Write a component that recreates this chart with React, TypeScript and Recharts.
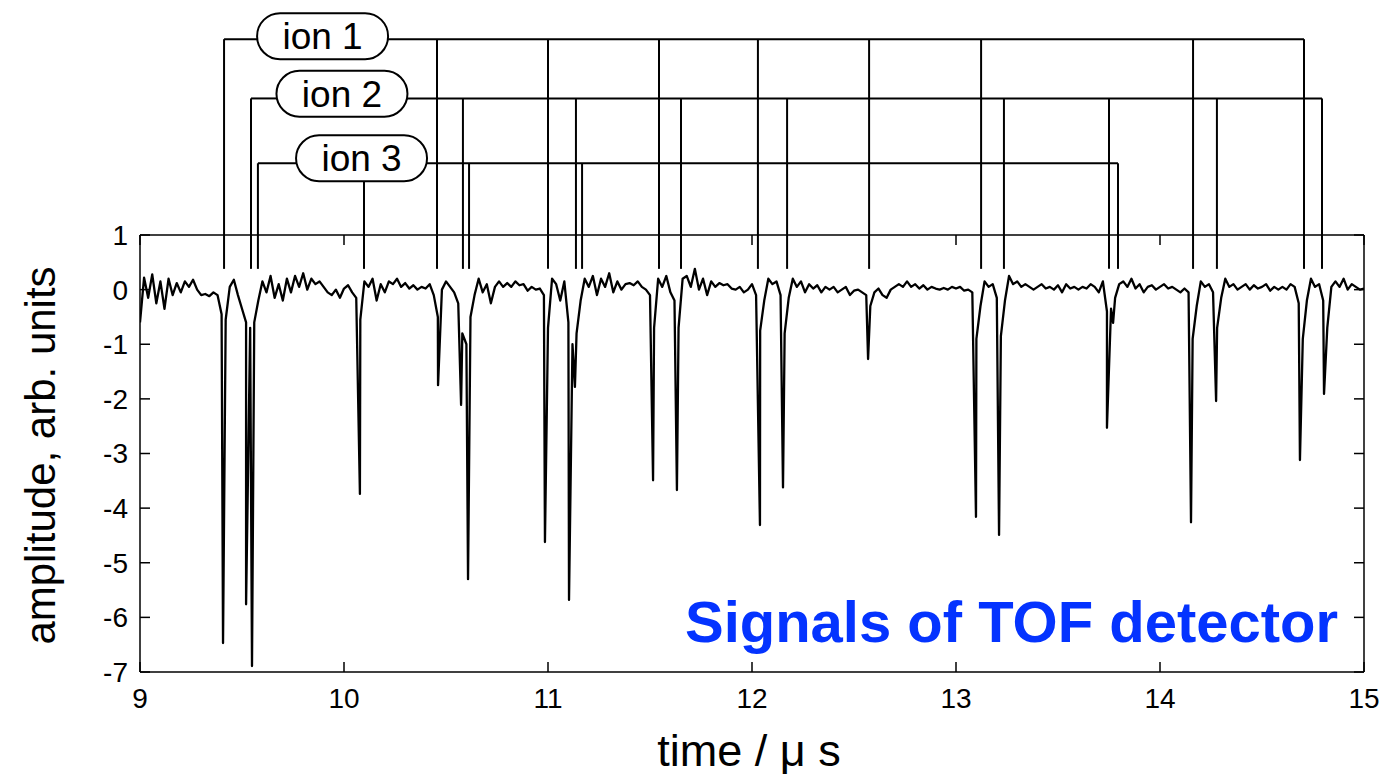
import { Line, LineChart, ReferenceDot, ReferenceLine, XAxis, YAxis } from "recharts";

const FONT = '"Liberation Sans", Arial, Helvetica, sans-serif';

// detector trace, sampled every 0.02 us from 9.00 to 15.00
const NOISE_START = 9;
const NOISE_STEP = 0.02;
const baseline = [
  -0.6, 0.22, -0.15, 0.28, -0.25, 0.15, -0.35, 0.2, -0.1, 0.12, // 9.00
  -0.05, 0.15, 0.05, 0.18, 0.0, -0.1, -0.08, -0.12, -0.05, -0.1, // 9.20
  -0.45, -0.55, 0.05, 0.18, -0.1, -0.35, -0.6, -0.7, -0.6, -0.2, // 9.40
  0.15, -0.05, 0.25, -0.15, 0.1, -0.2, 0.2, -0.05, 0.25, 0.05, // 9.60
  0.3, 0.0, 0.2, 0.1, 0.15, 0.05, -0.05, -0.1, 0.0, -0.15, // 9.80
  0.02, 0.08, -0.05, -0.15, -0.55, 0.15, 0.05, 0.2, -0.2, 0.1, // 10.00
  -0.05, 0.15, 0.1, 0.2, 0.05, 0.12, 0.02, 0.08, 0.0, 0.05, // 10.20
  0.02, 0.1, -0.1, -0.5, 0.0, 0.15, 0.05, -0.05, -0.25, -0.8, // 10.40
  -1.0, -0.5, -0.1, 0.2, -0.05, 0.1, -0.25, 0.05, 0.15, 0.05, // 10.60
  0.12, 0.05, 0.15, 0.08, 0.1, -0.02, 0.05, 0.0, 0.02, -0.1, // 10.80
  -0.7, 0.2, 0.1, -0.2, 0.15, -0.6, -1.0, -0.8, -0.2, 0.2, // 11.00
  0.05, 0.25, -0.1, 0.2, 0.05, 0.3, -0.05, 0.15, 0.0, 0.1, // 11.20
  0.12, 0.08, 0.15, 0.05, 0.0, -0.1, -0.7, 0.2, 0.05, 0.25, // 11.40
  -0.05, -0.2, -0.7, 0.2, 0.25, 0.05, 0.38, 0.0, 0.2, -0.1, // 11.60
  0.15, 0.05, 0.12, 0.08, 0.1, 0.02, 0.0, 0.05, -0.05, 0.0, // 11.80
  0.1, -0.1, -0.75, -0.2, 0.2, 0.1, 0.15, -0.1, -0.8, -0.15, // 12.00
  0.2, 0.05, 0.15, -0.05, 0.1, 0.02, 0.08, -0.05, 0.05, 0.0, // 12.20
  0.05, -0.05, 0.0, 0.05, -0.1, -0.02, 0.0, -0.05, -0.1, -0.3, // 12.40
  -0.05, 0.02, -0.1, -0.15, 0.0, 0.05, 0.1, 0.05, 0.15, 0.05, // 12.60
  0.1, 0.02, 0.08, 0.0, 0.05, 0.02, 0.0, 0.03, 0.0, 0.05, // 12.80
  0.02, 0.05, -0.02, 0.0, -0.05, -0.9, -0.3, 0.15, 0.05, 0.1, // 13.00
  -0.15, -0.85, -0.2, 0.25, 0.1, 0.15, 0.05, 0.1, 0.05, 0.0, // 13.20
  0.05, 0.1, 0.02, 0.05, 0.0, 0.08, -0.05, 0.1, 0.02, 0.05, // 13.40
  0.0, 0.05, 0.02, 0.1, 0.05, -0.05, 0.15, -0.4, -0.35, -0.15, // 13.60
  0.1, 0.15, 0.05, 0.2, 0.02, 0.1, -0.05, 0.05, 0.08, 0.0, // 13.80
  0.05, 0.1, 0.02, 0.05, 0.0, -0.05, 0.02, -0.05, -0.9, -0.3, // 14.00
  0.15, 0.05, 0.1, -0.05, -0.7, -0.15, 0.2, 0.05, 0.1, 0.0, // 14.20
  0.05, 0.1, 0.0, 0.08, 0.02, 0.05, 0.1, -0.02, 0.05, 0.0, // 14.40
  0.05, 0.0, 0.1, 0.05, -0.25, -0.9, -0.2, 0.2, 0.05, 0.1, // 14.60
  -0.2, -0.7, 0.05, 0.15, 0.05, 0.2, 0.0, 0.1, 0.05, 0.0, // 14.80
  0.02, // 15.00
];

// sharp ion hits
const spikeTimes = [
  9.407, 9.52, 9.549, 10.078, 10.461, 10.574, 10.608, 10.985, 11.103, 11.132, 11.515, 11.632,
  12.039, 12.152, 12.569, 13.098, 13.211, 13.74, 13.77, 14.152, 14.275, 14.686, 14.804,
];
const spikeDepths = [
  -6.47, -5.76, -6.89, -3.74, -1.75, -2.11, -5.3, -4.62, -5.68, -1.78, -3.49, -3.67,
  -4.31, -3.62, -1.27, -4.16, -4.49, -2.53, -0.61, -4.26, -2.04, -3.12, -1.91,
];

// flight-time markers for each ion
const ion1Times = [9.412, 10.456, 11.0, 11.544, 12.029, 12.574, 13.123, 14.162, 14.706];
const ion2Times = [9.544, 10.583, 11.137, 11.652, 12.172, 13.235, 13.75, 14.279, 14.794];
const ion3Times = [9.578, 10.098, 10.613, 11.167, 13.794];

const xTicks = [9, 10, 11, 12, 13, 14, 15];
const yTicks = [-7, -6, -5, -4, -3, -2, -1, 0, 1];

const MARKER_BOTTOM = 0.38;
const BOX_W = 131;
const BOX_H = 46;

const ions = [
  { name: "ion 1", times: ion1Times, level: 4.585, boxT: 9.895, boxV: 4.64, boxL: 9.574, boxR: 10.216 },
  { name: "ion 2", times: ion2Times, level: 3.5, boxT: 9.99, boxV: 3.586, boxL: 9.672, boxR: 10.309 },
  { name: "ion 3", times: ion3Times, level: 2.313, boxT: 10.086, boxV: 2.405, boxL: 9.77, boxR: 10.402 },
];

const data = [
  ...baseline.map((v, i) => ({ t: +(NOISE_START + i * NOISE_STEP).toFixed(3), v })),
  ...spikeTimes.map((t, i) => ({ t, v: spikeDepths[i] })),
].sort((a, b) => a.t - b.t);

function IonBox(props: any, name: string) {
  const { cx, cy } = props;
  return (
    <g>
      <rect
        x={cx - BOX_W / 2}
        y={cy - BOX_H / 2}
        width={BOX_W}
        height={BOX_H}
        rx={BOX_H / 2}
        fill="#fff"
        stroke="#000"
        strokeWidth={2}
      />
      <text x={cx} y={cy + 13} textAnchor="middle" fontFamily={FONT} fontSize={37} fill="#000">
        {name}
      </text>
    </g>
  );
}

const noLabel = () => <g />;

export default function App() {
  const tickStyle = { fontFamily: FONT, fontSize: 28, fill: "#000" };
  return (
    <div style={{ position: "absolute", left: 0, top: 0, width: 1389, height: 775, background: "#fff" }}>
      <LineChart width={1389} height={775} data={data} margin={{ top: 234, right: 24, bottom: 0, left: 0 }}>
        <XAxis
          dataKey="t"
          type="number"
          domain={[9, 15]}
          ticks={xTicks}
          allowDataOverflow
          height={103}
          tickSize={-10}
          tickMargin={26}
          tick={tickStyle}
          stroke="#000"
          strokeWidth={1.5}
          label={(p: any) => {
            const vb = p.viewBox;
            return (
              <text x={vb.x + vb.width / 2 - 3} y={766} textAnchor="middle" fontFamily={FONT} fontSize={45} fill="#000">
                time / μ s
              </text>
            );
          }}
        />
        {/* frame: top and right axes carry only inward ticks */}
        <XAxis
          xAxisId="top"
          dataKey="t"
          orientation="top"
          type="number"
          domain={[9, 15]}
          ticks={xTicks}
          allowDataOverflow
          height={1}
          tickSize={-10}
          tick={noLabel}
          stroke="#000"
          strokeWidth={1.5}
        />
        <YAxis
          type="number"
          domain={[-7, 1]}
          ticks={yTicks}
          allowDataOverflow
          width={140}
          tickSize={-10}
          tickMargin={22}
          tick={tickStyle}
          stroke="#000"
          strokeWidth={1.5}
          label={(p: any) => {
            const vb = p.viewBox;
            const cx = 40;
            const cy = vb.y + vb.height / 2 + 2;
            return (
              <text
                x={cx}
                y={cy}
                transform={`rotate(-90 ${cx} ${cy})`}
                textAnchor="middle"
                dominantBaseline="central"
                fontFamily={FONT}
                fontSize={42}
                fill="#000"
              >
                amplitude, arb. units
              </text>
            );
          }}
        />
        <YAxis
          yAxisId="right"
          orientation="right"
          type="number"
          domain={[-7, 1]}
          ticks={yTicks}
          allowDataOverflow
          width={1}
          tickSize={-10}
          tick={noLabel}
          stroke="#000"
          strokeWidth={1.5}
        />

        {ions.map((ion) => {
          const first = ion.times[0];
          const last = ion.times[ion.times.length - 1];
          const boxBottom = ion.boxV - BOX_H / 2 / 54.6;
          return [
            <ReferenceLine
              key={ion.name + "-hl"}
              segment={[{ x: first, y: ion.level }, { x: ion.boxL, y: ion.level }]}
              stroke="#000"
              strokeWidth={2}
              ifOverflow="visible"
            />,
            <ReferenceLine
              key={ion.name + "-hr"}
              segment={[{ x: ion.boxR, y: ion.level }, { x: last, y: ion.level }]}
              stroke="#000"
              strokeWidth={2}
              ifOverflow="visible"
            />,
            ...ion.times.map((t) => (
              <ReferenceLine
                key={ion.name + "-v" + t}
                segment={[
                  { x: t, y: t > ion.boxL && t < ion.boxR ? boxBottom : ion.level },
                  { x: t, y: MARKER_BOTTOM },
                ]}
                stroke="#000"
                strokeWidth={2}
                ifOverflow="visible"
              />
            )),
            <ReferenceDot
              key={ion.name + "-box"}
              x={ion.boxT}
              y={ion.boxV}
              ifOverflow="visible"
              shape={(p: any) => IonBox(p, ion.name)}
            />,
          ];
        })}

        {/* invisible copy bound to the frame axes */}
        <Line
          xAxisId="top"
          yAxisId="right"
          dataKey="v"
          stroke="none"
          dot={false}
          activeDot={false}
          legendType="none"
          isAnimationActive={false}
        />
        <Line
          type="linear"
          dataKey="v"
          stroke="#000"
          strokeWidth={2.3}
          strokeLinejoin="round"
          dot={false}
          activeDot={false}
          isAnimationActive={false}
        />

        <ReferenceDot
          x={14.873}
          y={-6.45}
          ifOverflow="visible"
          shape={(p: any) => (
            <text x={p.cx} y={p.cy} textAnchor="end" fontFamily={FONT} fontWeight="bold" fontSize={58} fill="#0433ff">
              Signals of TOF detector
            </text>
          )}
        />
      </LineChart>
    </div>
  );
}
